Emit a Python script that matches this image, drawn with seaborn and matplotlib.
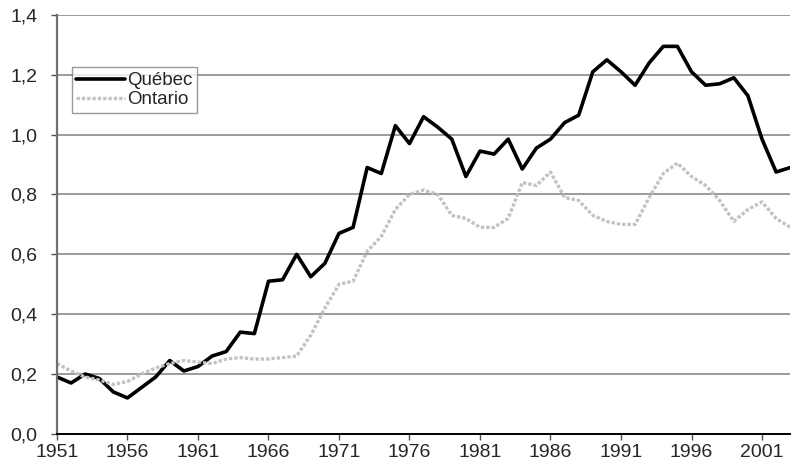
import numpy as np
import pandas as pd
import seaborn as sns
import matplotlib.pyplot as plt
from matplotlib.ticker import FuncFormatter

# Data
years = list(range(1951, 2004))
quebec = [0.19, 0.17, 0.20, 0.185, 0.14, 0.12, 0.155, 0.19, 0.245, 0.21,
          0.225, 0.26, 0.275, 0.34, 0.335, 0.51, 0.515, 0.60, 0.525, 0.57,
          0.67, 0.69, 0.89, 0.87, 1.03, 0.97, 1.06, 1.025, 0.985, 0.86,
          0.945, 0.935, 0.985, 0.885, 0.955, 0.985, 1.04, 1.065, 1.21, 1.25,
          1.21, 1.165, 1.24, 1.295, 1.295, 1.21, 1.165, 1.17, 1.19, 1.13,
          0.985, 0.875, 0.89]
ontario = [0.235, 0.21, 0.19, 0.18, 0.165, 0.175, 0.20, 0.22, 0.235, 0.245,
           0.24, 0.235, 0.25, 0.255, 0.25, 0.25, 0.255, 0.26, 0.33, 0.42,
           0.50, 0.51, 0.61, 0.66, 0.75, 0.80, 0.815, 0.80, 0.73, 0.72,
           0.69, 0.69, 0.72, 0.84, 0.83, 0.875, 0.79, 0.78, 0.73, 0.71,
           0.70, 0.70, 0.79, 0.87, 0.905, 0.86, 0.83, 0.78, 0.71, 0.75,
           0.775, 0.72, 0.69]
tick_years = list(range(1951, 2002, 5))
y_ticks = [0.0, 0.2, 0.4, 0.6, 0.8, 1.0, 1.2, 1.4]

df = pd.DataFrame({"annee": years, "Québec": quebec, "Ontario": ontario})

sns.set_style("white")
plt.rcParams['font.family'] = ['Liberation Sans', 'DejaVu Sans']

fig = plt.figure(figsize=(7.91, 4.67), dpi=100)
ax = fig.add_axes([0.072, 0.071, 0.927, 0.897])

sns.lineplot(x="annee", y="Québec", data=df, ax=ax, color="black",
             linewidth=2.6, label="Québec")
sns.lineplot(x="annee", y="Ontario", data=df, ax=ax, color="#c2c2c2",
             linewidth=2.4, linestyle=(0, (1, 0.6)), label="Ontario")

ax.set_xlim(1951, 2003)
ax.set_ylim(0, 1.4)
ax.set_xticks(tick_years)
ax.set_yticks(y_ticks)
ax.yaxis.set_major_formatter(FuncFormatter(lambda v, p: f"{v:.1f}".replace(".", ",")))
ax.set_xlabel("")
ax.set_ylabel("")

ax.grid(axis="y", color="#808080", linewidth=1.1)
ax.grid(axis="x", visible=False)
ax.set_axisbelow(True)

for s in ["top", "right"]:
    ax.spines[s].set_visible(False)
ax.spines["left"].set_color("#707070")
ax.spines["left"].set_linewidth(1.6)
ax.spines["bottom"].set_color("black")
ax.spines["bottom"].set_linewidth(1.4)

ax.tick_params(axis="both", direction="out", length=4, width=1,
               labelsize=14, color="#505050", bottom=True, left=True)
ax.tick_params(axis="x", pad=3)
ax.tick_params(axis="y", pad=10)

leg = ax.legend(loc="upper left", bbox_to_anchor=(0.02, 0.875), fontsize=13.5,
                frameon=True, fancybox=False, handlelength=2.6,
                handletextpad=0.1, borderpad=0.25, labelspacing=0.1,
                borderaxespad=0)
leg.get_frame().set_edgecolor("#808080")
leg.get_frame().set_linewidth(1)

plt.savefig("out.png", dpi=100)
